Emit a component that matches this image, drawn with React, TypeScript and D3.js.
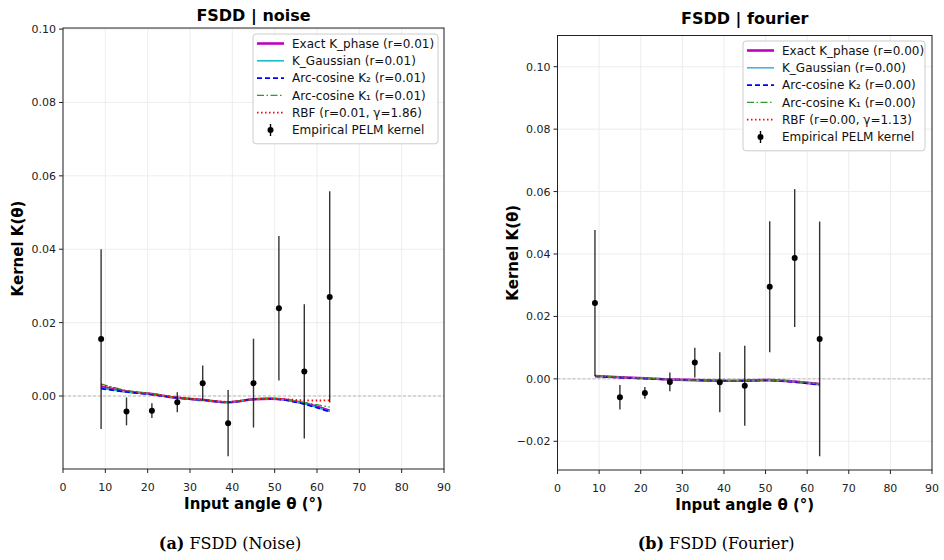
import React, { useEffect, useRef } from 'react';
import * as d3 from 'd3';

// Input angles (degrees) shared by both panels
const angles = [9, 15, 21, 27, 33, 39, 45, 51, 57, 63];

// FSDD | noise
const noiseEmpMean = [0.0155, -0.0042, -0.004, -0.0017, 0.0035, -0.0074, 0.0035, 0.0239, 0.0067, 0.027];
const noiseEmpErr = [0.0245, 0.0038, 0.002, 0.0027, 0.0048, 0.009, 0.0121, 0.0197, 0.0183, 0.0288];
const noisePhase = [0.0025, 0.0012, 0.0005, -0.0005, -0.0011, -0.0017, -0.0009, -0.0008, -0.002, -0.004];
const noiseGauss = [0.0022, 0.0011, 0.0005, -0.0005, -0.0011, -0.0017, -0.0009, -0.0008, -0.0021, -0.0042];
const noiseArc2 = [0.002, 0.0011, 0.0004, -0.0005, -0.0011, -0.0017, -0.0009, -0.0009, -0.0022, -0.0043];
const noiseArc1 = [0.0033, 0.0015, 0.0006, -0.0004, -0.0011, -0.0016, -0.0009, -0.0008, -0.0018, -0.003];
const noiseRbf = [0.003, 0.0014, 0.0006, -0.0004, -0.001, -0.0016, -0.0009, -0.0008, -0.0012, -0.0012];
const noiseLabels = [
  'Exact K_phase (r=0.01)',
  'K_Gaussian (r=0.01)',
  'Arc-cosine K₂ (r=0.01)',
  'Arc-cosine K₁ (r=0.01)',
  'RBF (r=0.01, γ=1.86)',
  'Empirical PELM kernel',
];

// FSDD | fourier
const fourierEmpMean = [0.0243, -0.0059, -0.0045, -0.001, 0.0052, -0.0011, -0.0022, 0.0295, 0.0387, 0.0128];
const fourierEmpErr = [0.0234, 0.0039, 0.0019, 0.003, 0.0048, 0.0096, 0.0128, 0.021, 0.0221, 0.0376];
const fourierPhase = [0.0009, 0.0005, 0.0002, -0.0002, -0.0004, -0.0006, -0.0006, -0.0004, -0.0009, -0.0017];
const fourierGauss = [0.0009, 0.0005, 0.0002, -0.0002, -0.0004, -0.0006, -0.0006, -0.0004, -0.0009, -0.0017];
const fourierArc2 = [0.0008, 0.0004, 0.0001, -0.0002, -0.0004, -0.0006, -0.0006, -0.0005, -0.001, -0.0019];
const fourierArc1 = [0.001, 0.0005, 0.0002, -0.0002, -0.0004, -0.0006, -0.0006, -0.0004, -0.0009, -0.0016];
const fourierRbf = [0.001, 0.0005, 0.0002, -0.0002, -0.0004, -0.0006, -0.0006, -0.0004, -0.0009, -0.0016];
const fourierLabels = [
  'Exact K_phase (r=0.00)',
  'K_Gaussian (r=0.00)',
  'Arc-cosine K₂ (r=0.00)',
  'Arc-cosine K₁ (r=0.00)',
  'RBF (r=0.00, γ=1.13)',
  'Empirical PELM kernel',
];

const xTicks = [0, 10, 20, 30, 40, 50, 60, 70, 80, 90];

interface PanelProps {
  svg: d3.Selection<SVGGElement, unknown, null, undefined>;
  title: string;
  box: { left: number; right: number; top: number; bottom: number };
  yDomain: [number, number];
  yTicks: number[];
  series: number[][];
  mean: number[];
  err: number[];
  labels: string[];
  gaussColor: string;
  legend: { x: number; y: number; w: number };
  titleY: number;
  caption: [string, string];
  captionX: number;
}

const FONT = 'DejaVu Sans, sans-serif';

function drawPanel(p: PanelProps) {
  const { svg, box } = p;
  const x = d3.scaleLinear().domain([0, 90]).range([box.left, box.right]);
  const y = d3.scaleLinear().domain(p.yDomain).range([box.bottom, box.top]);
  const cx = (box.left + box.right) / 2;

  const g = svg.append('g');

  // grid
  g.selectAll('.gx')
    .data(xTicks)
    .enter()
    .append('line')
    .attr('x1', d => x(d))
    .attr('x2', d => x(d))
    .attr('y1', box.top)
    .attr('y2', box.bottom)
    .attr('stroke', '#ebebeb')
    .attr('stroke-width', 0.9);
  g.selectAll('.gy')
    .data(p.yTicks)
    .enter()
    .append('line')
    .attr('x1', box.left)
    .attr('x2', box.right)
    .attr('y1', d => y(d))
    .attr('y2', d => y(d))
    .attr('stroke', '#ebebeb')
    .attr('stroke-width', 0.9);

  // zero reference
  g.append('line')
    .attr('x1', box.left)
    .attr('x2', box.right)
    .attr('y1', y(0))
    .attr('y2', y(0))
    .attr('stroke', '#aaaaaa')
    .attr('stroke-width', 0.8)
    .attr('stroke-dasharray', '3,2');

  // theory curves
  const styles = [
    { color: '#bf00bf', width: 2.6, dash: null },
    { color: p.gaussColor, width: 1.6, dash: null },
    { color: '#0000ff', width: 1.8, dash: '5,3' },
    { color: '#2e9a2e', width: 1.3, dash: '7,2.5,1.5,2.5' },
    { color: '#ff0000', width: 1.8, dash: '1.5,2.5' },
  ];
  const line = d3
    .line<number>()
    .x((_, i) => x(angles[i]))
    .y(d => y(d))
    .curve(d3.curveCatmullRom);

  p.series.forEach((vals, i) => {
    const s = styles[i];
    const path = g
      .append('path')
      .attr('d', line(vals))
      .attr('fill', 'none')
      .attr('stroke', s.color)
      .attr('stroke-width', s.width);
    if (s.dash) path.attr('stroke-dasharray', s.dash);
  });

  // empirical points with error bars
  const emp = g.selectAll('.emp').data(angles).enter().append('g');
  emp
    .append('line')
    .attr('x1', d => x(d))
    .attr('x2', d => x(d))
    .attr('y1', (_, i) => y(p.mean[i] - p.err[i]))
    .attr('y2', (_, i) => y(p.mean[i] + p.err[i]))
    .attr('stroke', '#111')
    .attr('stroke-opacity', 0.85)
    .attr('stroke-width', 1.4);
  emp
    .append('circle')
    .attr('cx', d => x(d))
    .attr('cy', (_, i) => y(p.mean[i]))
    .attr('r', 3)
    .attr('fill', '#000');

  // frame
  g.append('rect')
    .attr('x', box.left)
    .attr('y', box.top)
    .attr('width', box.right - box.left)
    .attr('height', box.bottom - box.top)
    .attr('fill', 'none')
    .attr('stroke', '#222')
    .attr('stroke-width', 1);

  // x axis
  const xa = g.append('g');
  xTicks.forEach(t => {
    xa.append('line')
      .attr('x1', x(t))
      .attr('x2', x(t))
      .attr('y1', box.bottom)
      .attr('y2', box.bottom + 4)
      .attr('stroke', '#222');
    xa.append('text')
      .attr('x', x(t))
      .attr('y', box.bottom + 22)
      .attr('text-anchor', 'middle')
      .style('font-family', FONT)
      .style('font-size', '11px')
      .attr('fill', '#222')
      .text(String(t));
  });

  // y axis
  const fmt = d3.format('.2f');
  const ya = g.append('g');
  p.yTicks.forEach(t => {
    ya.append('line')
      .attr('x1', box.left - 4)
      .attr('x2', box.left)
      .attr('y1', y(t))
      .attr('y2', y(t))
      .attr('stroke', '#222');
    ya.append('text')
      .attr('x', box.left - 7)
      .attr('y', y(t) + 4)
      .attr('text-anchor', 'end')
      .style('font-family', FONT)
      .style('font-size', '11px')
      .attr('fill', '#222')
      .text(fmt(t));
  });

  // labels
  g.append('text')
    .attr('x', cx)
    .attr('y', box.bottom + 40)
    .attr('text-anchor', 'middle')
    .style('font-family', FONT)
    .style('font-size', '15px')
    .style('font-weight', 'bold')
    .text('Input angle θ (°)');

  const ymid = (box.top + box.bottom) / 2;
  g.append('text')
    .attr('transform', `translate(${box.left - 40},${ymid}) rotate(-90)`)
    .attr('text-anchor', 'middle')
    .style('font-family', FONT)
    .style('font-size', '15px')
    .style('font-weight', 'bold')
    .text('Kernel K(θ)');

  g.append('text')
    .attr('x', cx)
    .attr('y', p.titleY)
    .attr('text-anchor', 'middle')
    .style('font-family', FONT)
    .style('font-size', '16px')
    .style('font-weight', 'bold')
    .text(p.title);

  // caption
  const cap = g
    .append('text')
    .attr('x', p.captionX)
    .attr('y', 549)
    .attr('text-anchor', 'middle')
    .style('font-family', 'DejaVu Serif, Liberation Serif, serif')
    .style('font-size', '16px');
  cap.append('tspan').style('font-weight', 'bold').text(p.caption[0]);
  cap.append('tspan').text(' ' + p.caption[1]);

  // legend
  const rowH = 17.3;
  const L = p.legend;
  const lg = g.append('g').attr('transform', `translate(${L.x},${L.y})`);
  lg.append('rect')
    .attr('width', L.w)
    .attr('height', rowH * 6 + 6)
    .attr('rx', 3)
    .attr('fill', 'white')
    .attr('fill-opacity', 0.85)
    .attr('stroke', '#cccccc');
  p.labels.forEach((lab, i) => {
    const yy = 9.5 + i * rowH;
    if (i < 5) {
      const s = styles[i];
      const ln = lg
        .append('line')
        .attr('x1', 4)
        .attr('x2', 31)
        .attr('y1', yy)
        .attr('y2', yy)
        .attr('stroke', s.color)
        .attr('stroke-width', s.width);
      if (s.dash) ln.attr('stroke-dasharray', s.dash);
    } else {
      lg.append('line')
        .attr('x1', 17.5)
        .attr('x2', 17.5)
        .attr('y1', yy - 6)
        .attr('y2', yy + 6)
        .attr('stroke', '#000')
        .attr('stroke-width', 1.4);
      lg.append('circle').attr('cx', 17.5).attr('cy', yy).attr('r', 3);
    }
    lg.append('text')
      .attr('x', 39)
      .attr('y', yy + 4.3)
      .style('font-family', FONT)
      .style('font-size', '12px')
      .attr('fill', '#111')
      .text(lab);
  });
}

const App: React.FC = () => {
  const svgRef = useRef<SVGSVGElement>(null);

  useEffect(() => {
    if (!svgRef.current) return;
    const root = d3.select(svgRef.current);
    root.selectAll('*').remove();
    const svg = root.append('g');

    drawPanel({
      svg,
      title: 'FSDD | noise',
      box: { left: 63, right: 444, top: 28, bottom: 469 },
      yDomain: [-0.0199, 0.1003],
      yTicks: [0, 0.02, 0.04, 0.06, 0.08, 0.1],
      series: [noisePhase, noiseGauss, noiseArc2, noiseArc1, noiseRbf],
      mean: noiseEmpMean,
      err: noiseEmpErr,
      labels: noiseLabels,
      gaussColor: '#17c0c8',
      legend: { x: 253, y: 34, w: 185 },
      titleY: 21,
      caption: ['(a)', 'FSDD (Noise)'],
      captionX: 230,
    });

    drawPanel({
      svg,
      title: 'FSDD | fourier',
      box: { left: 557.5, right: 932, top: 35.5, bottom: 470 },
      yDomain: [-0.0292, 0.11],
      yTicks: [-0.02, 0, 0.02, 0.04, 0.06, 0.08, 0.1],
      series: [fourierPhase, fourierGauss, fourierArc2, fourierArc1, fourierRbf],
      mean: fourierEmpMean,
      err: fourierEmpErr,
      labels: fourierLabels,
      gaussColor: '#45b4e0',
      legend: { x: 743, y: 41, w: 182 },
      titleY: 24,
      caption: ['(b)', 'FSDD (Fourier)'],
      captionX: 716,
    });
  }, []);

  return (
    <svg
      ref={svgRef}
      width={944}
      height={560}
      style={{ position: 'absolute', left: 0, top: 0, background: 'white' }}
    />
  );
};

export default App;
